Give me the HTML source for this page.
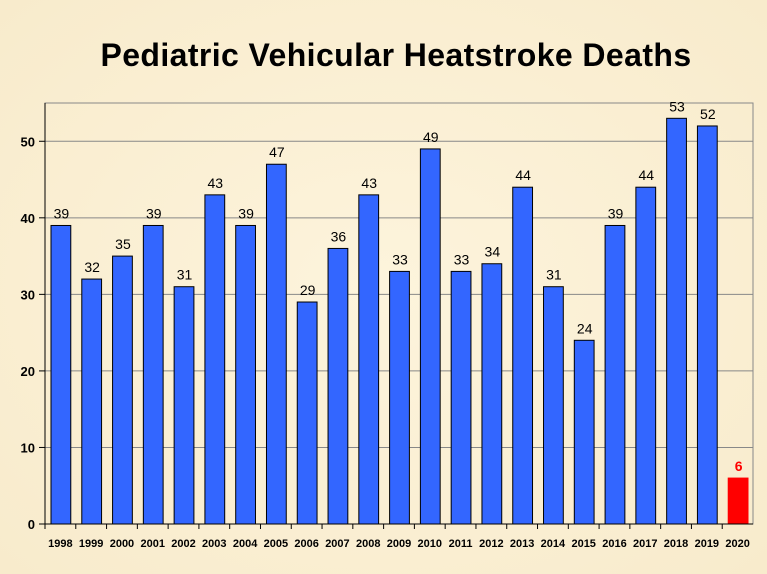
<!DOCTYPE html>
<html><head><meta charset="utf-8"><style>
html,body{margin:0;width:767px;height:574px;background:#fcf1d6;overflow:hidden;font-family:"Liberation Sans",sans-serif}
svg{display:block}
</style></head><body>
<svg width="767" height="574" xmlns="http://www.w3.org/2000/svg">
<defs><radialGradient id="bg" cx="50%" cy="50%" r="70%"><stop offset="0" stop-color="#fdf4dc"/><stop offset="1" stop-color="#f8ebcc"/></radialGradient></defs>
<rect width="767" height="574" fill="url(#bg)"/>
<text x="396" y="66" text-anchor="middle" font-size="32" font-weight="bold" letter-spacing="0.4" fill="#000">Pediatric Vehicular Heatstroke Deaths</text>
<g id="plot"></g>
</svg>
<script>
const years=["1998","1999","2000","2001","2002","2003","2004","2005","2006","2007","2008","2009","2010","2011","2012","2013","2014","2015","2016","2017","2018","2019","2020"];
const deaths=[39,32,35,39,31,43,39,47,29,36,43,33,49,33,34,44,31,24,39,44,53,52,6];
const yTicks=[0,10,20,30,40,50];
const highlightIndex=22;
const L=45,R=753,T=103,B=524,yMax=55;
const n=years.length,step=(R-L)/n;
const y=v=>B-(v/yMax)*(B-T);
const x=i=>L+i*step;
const g=document.getElementById('plot');
const NS="http://www.w3.org/2000/svg";
function mk(t,a){const e=document.createElementNS(NS,t);for(const k in a)e.setAttribute(k,a[k]);g.appendChild(e);return e;}
yTicks.forEach(t=>{if(t>0){const l=mk('line',{x1:L,x2:R,y1:y(t),y2:y(t),stroke:'#888','stroke-width':1});

}
const k=mk('line',{x1:L-6,x2:L,y1:y(t),y2:y(t),stroke:'#000'});


const tx=mk('text',{x:L-10,y:y(t)+5,'text-anchor':'end','font-size':13,'font-weight':'bold'});tx.textContent=t;

});
const fr=mk('rect',{x:L,y:T,width:R-L,height:B-T,fill:'none',stroke:'#888'});


deaths.forEach((v,i)=>{const hi=i===highlightIndex;
const r=mk('rect',{x:x(i)+6,y:y(v),width:step-11,height:B-y(v),fill:hi?'#ff0000':'#3366ff',stroke:hi?'#ff0000':'#000','stroke-width':1});


const lb=mk('text',{x:x(i)+step/2+1,y:y(v)-7,'text-anchor':'middle','font-size':14,fill:hi?'#ff0000':'#000','font-weight':hi?'bold':'normal'});lb.textContent=v;


const xl=mk('text',{x:x(i)+step/2,y:B+23,'text-anchor':'middle','font-size':11,'font-weight':'bold'});xl.textContent=years[i];


const tk=mk('line',{x1:x(i),x2:x(i),y1:B,y2:B+5,stroke:'#000'});

});
const ax=mk('line',{x1:L,x2:R,y1:B,y2:B,stroke:'#000'});


const ay=mk('line',{x1:L,x2:L,y1:T,y2:B,stroke:'#000'});


</script>
</body></html>
